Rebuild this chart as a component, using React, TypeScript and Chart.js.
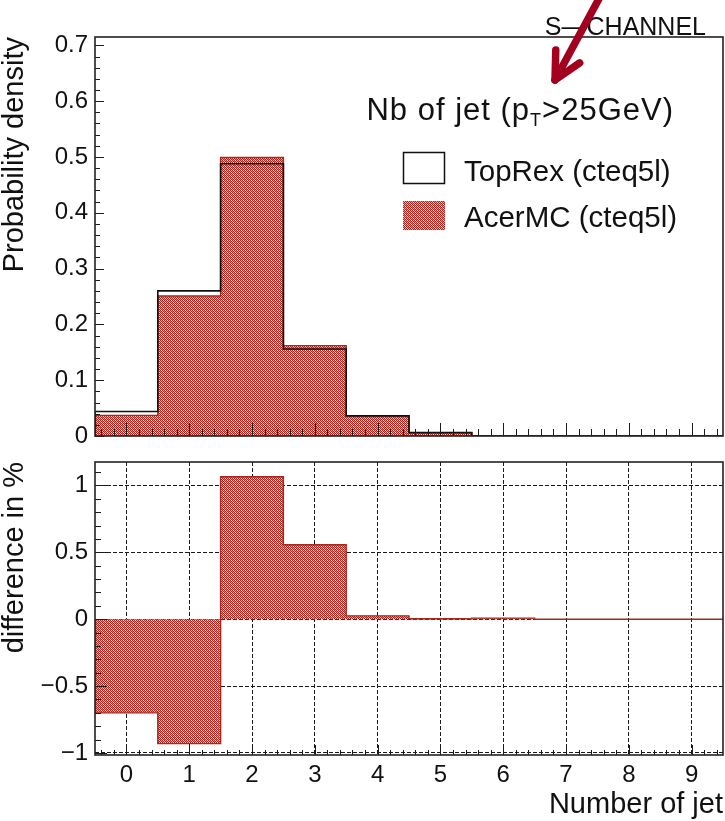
import React, { useEffect, useRef } from "react";
import { Chart, registerables } from "chart.js";

Chart.register(...registerables);

// Jet multiplicity bins (number of jets with pT > 25 GeV)
const JET_BINS = [0, 1, 2, 3, 4, 5, 6, 7, 8, 9];
// Normalised jet multiplicity, TopRex (cteq5l)
const TOPREX = [0.044, 0.26, 0.488, 0.156, 0.036, 0.006, 0, 0, 0, 0];
// Normalised jet multiplicity, AcerMC (cteq5l)
const ACERMC = [0.037, 0.251, 0.499, 0.162, 0.036, 0.006, 0, 0, 0, 0];
// AcerMC minus TopRex, in %
const DIFF_PCT = [-0.7, -0.93, 1.065, 0.556, 0.025, 0.003, 0.008, 0, 0, 0];

const SERIES_NAMES = ["TopRex (cteq5l)", "AcerMC (cteq5l)"];
const X_TICKS = [0, 1, 2, 3, 4, 5, 6, 7, 8, 9];
const DENSITY_TICKS = [0, 0.1, 0.2, 0.3, 0.4, 0.5, 0.6, 0.7];
const DIFF_TICKS = [-1, -0.5, 0, 0.5, 1];

const DENSITY_MAX = 0.715;
const DIFF_MIN = -1.015;
const DIFF_MAX = 1.175;

const FONT = '"Liberation Sans", Arial, Helvetica, sans-serif';
const INK = "#111";
const HIST_RED = "#a8261c";

// Edges of the bins: a step outline that starts and ends on the baseline.
function stepPoints(values: number[]) {
  const pts = [{ x: JET_BINS[0] - 0.5, y: 0 }];
  values.forEach((v, i) => pts.push({ x: JET_BINS[i] + 0.5, y: v }));
  pts.push({ x: JET_BINS[JET_BINS.length - 1] + 0.5, y: 0 });
  return pts;
}

function fmtTick(v: number) {
  if (v === 0) return "0";
  return String(v).replace("-", "\u2212");
}

// Dotted red fill used for the AcerMC histogram.
function makeHatch(): CanvasPattern | string {
  const R = "rgb(168,38,32)";
  const P = "rgb(226,176,164)";
  const W = "rgb(246,236,230)";
  const M = "rgb(202,122,110)";
  const tile = [
    [R, P, R, W],
    [P, R, M, R],
    [R, W, R, P],
    [M, R, P, R],
  ];
  const c = document.createElement("canvas");
  c.width = 4;
  c.height = 4;
  const g = c.getContext("2d");
  if (!g) return "rgb(194,108,100)";
  tile.forEach((row, y) =>
    row.forEach((col, x) => {
      g.fillStyle = col;
      g.fillRect(x, y, 1, 1);
    })
  );
  return g.createPattern(c, "repeat") || "rgb(194,108,100)";
}

type TickOpts = {
  xMajors: number[];
  yMajors: number[];
  xStep: number;
  yStep: number;
  xMajorLen: number;
  xMinorLen: number;
  yMajorLen: number;
  yMinorLen: number;
};

// Ticks pointing into the frame, plus the frame itself.
function frameTicks(id: string, o: TickOpts) {
  return {
    id,
    afterDraw(chart: any) {
      const { ctx, chartArea: a, scales } = chart;
      const xs = scales.x;
      const ys = scales.y;
      ctx.save();
      ctx.strokeStyle = "#1c1c1c";
      ctx.lineWidth = 1;
      ctx.beginPath();
      const near = (arr: number[], v: number) => arr.some((m) => Math.abs(m - v) < 1e-6);
      for (let k = Math.ceil(xs.min / o.xStep - 1e-9); k * o.xStep <= xs.max + 1e-9; k++) {
        const v = k * o.xStep;
        const px = Math.round(xs.getPixelForValue(v)) + 0.5;
        const len = near(o.xMajors, v) ? o.xMajorLen : o.xMinorLen;
        ctx.moveTo(px, a.bottom);
        ctx.lineTo(px, a.bottom - len);
      }
      for (let k = Math.ceil(ys.min / o.yStep - 1e-9); k * o.yStep <= ys.max + 1e-9; k++) {
        const v = k * o.yStep;
        const py = Math.round(ys.getPixelForValue(v)) + 0.5;
        const len = near(o.yMajors, v) ? o.yMajorLen : o.yMinorLen;
        ctx.moveTo(a.left, py);
        ctx.lineTo(a.left + len, py);
      }
      ctx.stroke();
      ctx.lineWidth = 1.6;
      ctx.strokeStyle = "#222";
      ctx.strokeRect(a.left, a.top, a.right - a.left, a.bottom - a.top);
      ctx.restore();
    },
  };
}

// Channel tag, observable title, legend and the pointer arrow.
function annotations(hatch: CanvasPattern | string) {
  return {
    id: "annotations",
    afterDraw(chart: any) {
      const { ctx, chartArea: a } = chart;
      ctx.save();
      ctx.fillStyle = INK;
      ctx.textBaseline = "alphabetic";

      ctx.font = `25px ${FONT}`;
      ctx.textAlign = "right";
      ctx.fillText("S\u2014CHANNEL", a.right - 17, a.top - 2);

      // "Nb of jet (pT>25GeV)" with a subscript T
      ctx.textAlign = "left";
      const big = `31px ${FONT}`;
      const small = `18px ${FONT}`;
      const partA = "Nb of jet (p";
      const partB = "T";
      const partC = ">25GeV)";
      (ctx as any).letterSpacing = "1px";
      ctx.font = big;
      const wA = ctx.measureText(partA).width;
      const wC = ctx.measureText(partC).width;
      ctx.font = small;
      const wB = ctx.measureText(partB).width;
      let tx = a.right - 49 - (wA + wB + wC);
      const ty = a.top + 83;
      ctx.font = big;
      ctx.fillText(partA, tx, ty);
      tx += wA;
      ctx.font = small;
      ctx.fillText(partB, tx, ty + 6);
      tx += wB;
      ctx.font = big;
      ctx.fillText(partC, tx, ty);
      (ctx as any).letterSpacing = "0px";

      // legend
      const bx = a.right - 320;
      ctx.fillStyle = "#fff";
      ctx.fillRect(bx, a.top + 115, 42, 32);
      ctx.strokeStyle = "#111";
      ctx.lineWidth = 1.5;
      ctx.strokeRect(bx + 0.5, a.top + 115.5, 41, 31);
      ctx.fillStyle = hatch as any;
      ctx.fillRect(bx, a.top + 164, 42, 29);
      ctx.fillStyle = INK;
      ctx.font = `29.5px ${FONT}`;
      ctx.fillText(SERIES_NAMES[0], a.right - 259, a.top + 144);
      ctx.fillText(SERIES_NAMES[1], a.right - 259, a.top + 190);

      // arrow
      const tip = { x: a.right - 168, y: a.top + 43 };
      const tail = { x: a.right - 122, y: a.top - 42 };
      const ang = Math.atan2(tail.y - tip.y, tail.x - tip.x);
      ctx.strokeStyle = "#a3001f";
      ctx.lineWidth = 7.5;
      ctx.lineCap = "round";
      ctx.lineJoin = "round";
      ctx.beginPath();
      ctx.moveTo(tail.x, tail.y);
      ctx.lineTo(tip.x, tip.y);
      ctx.stroke();
      ctx.beginPath();
      for (const s of [-1, 1]) {
        ctx.moveTo(tip.x, tip.y);
        ctx.lineTo(tip.x + 30 * Math.cos(ang + s * 0.47), tip.y + 30 * Math.sin(ang + s * 0.47));
      }
      ctx.stroke();
      ctx.restore();
    },
  };
}

export default function App() {
  const topRef = useRef<HTMLCanvasElement | null>(null);
  const botRef = useRef<HTMLCanvasElement | null>(null);

  useEffect(() => {
    if (!topRef.current || !botRef.current) return;
    const hatch = makeHatch();
    const xMin = JET_BINS[0] - 0.5;
    const xMax = JET_BINS[JET_BINS.length - 1] + 0.5;

    const topChart = new Chart(topRef.current, {
      type: "line",
      data: {
        datasets: [
          {
            label: SERIES_NAMES[0],
            data: stepPoints(TOPREX),
            borderColor: INK,
            borderWidth: 1.6,
            fill: false,
            stepped: "after",
            pointRadius: 0,
            order: 0,
          },
          {
            label: SERIES_NAMES[1],
            data: stepPoints(ACERMC),
            borderColor: HIST_RED,
            borderWidth: 1.4,
            backgroundColor: hatch as any,
            fill: "origin",
            stepped: "after",
            pointRadius: 0,
            order: 1,
          },
        ],
      },
      options: {
        animation: false,
        responsive: false,
        events: [],
        layout: { padding: { top: 37, right: 2, bottom: 24, left: 0 } },
        plugins: { legend: { display: false }, tooltip: { enabled: false } },
        scales: {
          x: { type: "linear", min: xMin, max: xMax, display: false },
          y: {
            type: "linear",
            min: 0,
            max: DENSITY_MAX,
            afterBuildTicks: (s: any) => {
              s.ticks = DENSITY_TICKS.map((v) => ({ value: v }));
            },
            afterFit: (s: any) => {
              s.width = 95;
            },
            grid: { display: false, drawTicks: false },
            border: { display: false },
            ticks: {
              font: { family: FONT, size: 24 },
              color: INK,
              padding: 7,
              callback: (v: any) => fmtTick(Number(v)),
            },
            title: {
              display: true,
              text: "Probability density",
              align: "end",
              font: { family: FONT, size: 29 },
              color: INK,
              padding: { top: -2, bottom: 0 },
            },
          },
        },
      } as any,
      plugins: [
        frameTicks("topFrame", {
          xMajors: X_TICKS,
          yMajors: DENSITY_TICKS,
          xStep: 0.2,
          yStep: 0.02,
          xMajorLen: 13,
          xMinorLen: 7,
          yMajorLen: 9,
          yMinorLen: 5,
        }),
        annotations(hatch),
      ],
    });

    const botChart = new Chart(botRef.current, {
      type: "line",
      data: {
        datasets: [
          {
            label: "difference",
            data: stepPoints(DIFF_PCT),
            borderColor: HIST_RED,
            borderWidth: 1.4,
            backgroundColor: hatch as any,
            fill: "origin",
            stepped: "after",
            pointRadius: 0,
          },
        ],
      },
      options: {
        animation: false,
        responsive: false,
        events: [],
        layout: { padding: { top: 22, right: 2, bottom: 0, left: 0 } },
        plugins: { legend: { display: false }, tooltip: { enabled: false } },
        scales: {
          x: {
            type: "linear",
            min: xMin,
            max: xMax,
            z: 1,
            afterBuildTicks: (s: any) => {
              s.ticks = X_TICKS.map((v) => ({ value: v }));
            },
            afterFit: (s: any) => {
              s.height = 66;
            },
            grid: { color: "#1a1a1a", lineWidth: 1, drawTicks: false },
            border: { display: false, dash: [4, 2] },
            ticks: {
              font: { family: FONT, size: 24 },
              color: INK,
              padding: 6,
              maxRotation: 0,
              autoSkip: false,
              callback: (v: any) => fmtTick(Number(v)),
            },
            title: {
              display: true,
              text: "Number of jet",
              align: "end",
              font: { family: FONT, size: 29 },
              color: INK,
              padding: { top: 0, bottom: -1 },
            },
          },
          y: {
            type: "linear",
            min: DIFF_MIN,
            max: DIFF_MAX,
            z: 1,
            afterBuildTicks: (s: any) => {
              s.ticks = DIFF_TICKS.map((v) => ({ value: v }));
            },
            afterFit: (s: any) => {
              s.width = 95;
            },
            grid: { color: "#1a1a1a", lineWidth: 1, drawTicks: false },
            border: { display: false, dash: [4, 2] },
            ticks: {
              font: { family: FONT, size: 24 },
              color: INK,
              padding: 7,
              callback: (v: any) => fmtTick(Number(v)),
            },
            title: {
              display: true,
              text: "difference in %",
              align: "end",
              font: { family: FONT, size: 29 },
              color: INK,
              padding: { top: -2, bottom: 0 },
            },
          },
        },
      } as any,
      plugins: [
        frameTicks("bottomFrame", {
          xMajors: X_TICKS,
          yMajors: DIFF_TICKS,
          xStep: 0.2,
          yStep: 0.1,
          xMajorLen: 10,
          xMinorLen: 5,
          yMajorLen: 12,
          yMinorLen: 6,
        }),
      ],
    });

    return () => {
      topChart.destroy();
      botChart.destroy();
    };
  }, []);

  return (
    <div
      style={{
        position: "absolute",
        left: 0,
        top: 0,
        width: 725,
        height: 821,
        background: "#fff",
        overflow: "hidden",
      }}
    >
      <canvas
        ref={topRef}
        width={725}
        height={460}
        style={{ position: "absolute", left: 0, top: 0 }}
      />
      <canvas
        ref={botRef}
        width={725}
        height={381}
        style={{ position: "absolute", left: 0, top: 440 }}
      />
    </div>
  );
}
